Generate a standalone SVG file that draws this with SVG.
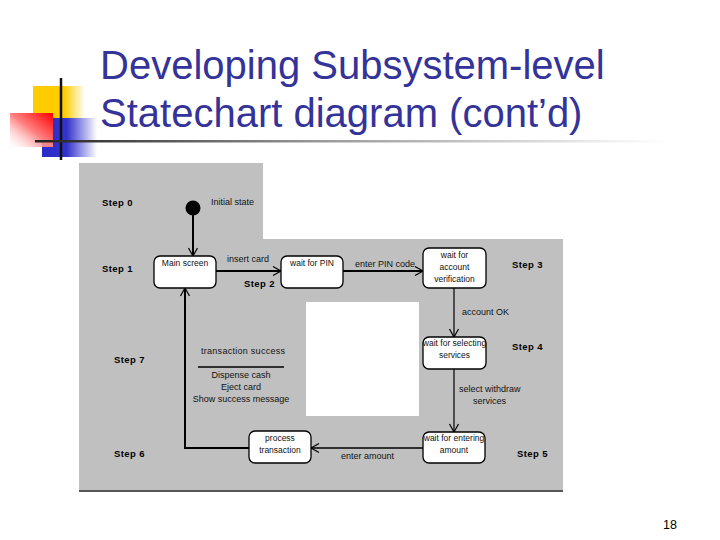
<svg xmlns="http://www.w3.org/2000/svg" width="720" height="540" viewBox="0 0 720 540">
<defs>
<linearGradient id="gY" x1="0" y1="0" x2="1" y2="0"><stop offset="0" stop-color="#ffcc00"/><stop offset="0.6" stop-color="#ffcc00"/><stop offset="1" stop-color="#ffcc00" stop-opacity="0"/></linearGradient>
<linearGradient id="gB" x1="0" y1="0" x2="1" y2="0"><stop offset="0" stop-color="#2a2ac8"/><stop offset="0.45" stop-color="#3333cc"/><stop offset="1" stop-color="#3333cc" stop-opacity="0"/></linearGradient>
<linearGradient id="gR" x1="0" y1="1" x2="1" y2="0"><stop offset="0" stop-color="#ffffff" stop-opacity="0.3"/><stop offset="0.5" stop-color="#ff8080"/><stop offset="1" stop-color="#ff0000"/></linearGradient>
<linearGradient id="gL" x1="0" y1="0" x2="1" y2="0"><stop offset="0" stop-color="#222222"/><stop offset="0.45" stop-color="#999999"/><stop offset="1" stop-color="#ffffff"/></linearGradient>
<marker id="arr" markerUnits="userSpaceOnUse" markerWidth="12" markerHeight="12" refX="9" refY="5" orient="auto" viewBox="0 0 12 10">
<path d="M1,0.5 L9,5 L1,9.5" fill="none" stroke="#000" stroke-width="1.2"/>
</marker>
<style>
.title{font-family:"Liberation Sans",Arial,sans-serif;font-size:40px;fill:#333399}
.node rect{fill:#ffffff;stroke:#000;stroke-width:1.3}
.nt{font-family:"Liberation Sans",Arial,sans-serif;font-size:8.5px;fill:#111;text-anchor:middle}
.lb{font-family:"Liberation Sans",Arial,sans-serif;font-size:9px;fill:#111}
.st{font-family:"Liberation Sans",Arial,sans-serif;font-size:9.5px;font-weight:bold;fill:#000;letter-spacing:0.4px}
.c{fill:none;stroke:#000}
</style>
</defs>
<rect width="720" height="540" fill="#ffffff"/>
<!-- decoration -->
<g id="decoration">
<rect x="33" y="86" width="52" height="32" fill="url(#gY)"/>
<rect x="42" y="118" width="55" height="39" fill="url(#gB)"/>
<rect x="10" y="113" width="43" height="34" fill="url(#gR)"/>
<line x1="61" y1="78" x2="61" y2="160" stroke="#111" stroke-width="2.5"/>
<rect x="35" y="140" width="630" height="2.5" fill="url(#gL)"/>
</g>
<text class="title" x="100" y="79">Developing Subsystem-level</text>
<text class="title" x="100" y="127">Statechart diagram (cont’d)</text>
<!-- diagram background -->
<path d="M79,163 H263 V239 H563 V491 H79 Z" fill="#c0c0c0"/>
<line x1="79" y1="491" x2="563" y2="491" stroke="#555" stroke-width="2"/>
<rect x="306" y="302" width="113" height="114" fill="#ffffff"/>
<!-- step labels -->
<g id="steps">
<text class="st" x="102" y="206">Step 0</text>
<text class="st" x="102" y="272">Step 1</text>
<text class="st" x="244" y="287">Step 2</text>
<text class="st" x="512" y="268">Step 3</text>
<text class="st" x="512" y="350">Step 4</text>
<text class="st" x="517" y="457">Step 5</text>
<text class="st" x="114" y="457">Step 6</text>
<text class="st" x="114" y="363">Step 7</text>
</g>
<!-- connectors -->
<g id="connectors">
<line class="c" x1="193" y1="215" x2="193" y2="256" stroke-width="2" marker-end="url(#arr)"/>
<line class="c" x1="216" y1="271" x2="281" y2="271" stroke-width="2" marker-end="url(#arr)"/>
<line class="c" x1="343" y1="271" x2="423" y2="271" stroke-width="2" marker-end="url(#arr)"/>
<line class="c" x1="454" y1="288" x2="454" y2="337" stroke-width="1.2" marker-end="url(#arr)"/>
<line class="c" x1="454" y1="369" x2="454" y2="432" stroke-width="1.2" marker-end="url(#arr)"/>
<line class="c" x1="423" y1="448" x2="311" y2="448" stroke-width="1.5" marker-end="url(#arr)"/>
<polyline class="c" points="249,448 185,448 185,288" stroke-width="2" marker-end="url(#arr)"/>
<text class="lb" x="227" y="262">insert card</text>
<text class="lb" x="355" y="267">enter PIN code</text>
<text class="lb" x="462" y="315">account OK</text>
<text class="lb" x="459" y="392">select withdraw</text>
<text class="lb" x="473" y="404">services</text>
<text class="lb" x="341" y="459">enter amount</text>
<text class="lb" x="201" y="354" textLength="84">transaction success</text>
<line x1="198" y1="367" x2="284" y2="367" stroke="#000" stroke-width="1.3"/>
<text class="lb" x="241" y="378" text-anchor="middle">Dispense cash</text>
<text class="lb" x="241" y="390" text-anchor="middle">Eject card</text>
<text class="lb" x="241" y="402" text-anchor="middle">Show success message</text>
</g>
<!-- nodes -->
<g id="initial">
<circle cx="193" cy="208" r="7.5" fill="#000"/>
<text class="lb" x="211" y="205">Initial state</text>
</g>
<g id="main" class="node">
<rect x="154" y="256" width="62" height="32" rx="6"/>
<text class="nt" x="185" y="266">Main screen</text>
</g>
<g id="pin" class="node">
<rect x="281" y="256" width="62" height="32" rx="6"/>
<text class="nt" x="312" y="266">wait for PIN</text>
</g>
<g id="verify" class="node">
<rect x="423" y="248" width="63" height="40" rx="6"/>
<text class="nt" x="454.5" y="258">wait for</text>
<text class="nt" x="454.5" y="270">account</text>
<text class="nt" x="454.5" y="282">verification</text>
</g>
<g id="select" class="node">
<rect x="423" y="337" width="63" height="32" rx="6"/>
<text class="nt" x="454.5" y="346">wait for selecting</text>
<text class="nt" x="454.5" y="358">services</text>
</g>
<g id="amount" class="node">
<rect x="423" y="432" width="62" height="31" rx="6"/>
<text class="nt" x="454" y="441">wait for entering</text>
<text class="nt" x="454" y="453">amount</text>
</g>
<g id="process" class="node">
<rect x="249" y="431" width="62" height="32" rx="6"/>
<text class="nt" x="280" y="441">process</text>
<text class="nt" x="280" y="453">transaction</text>
</g>
<text x="663" y="529" font-family="Liberation Sans, Arial, sans-serif" font-size="12.5" fill="#000">18</text>
</svg>
